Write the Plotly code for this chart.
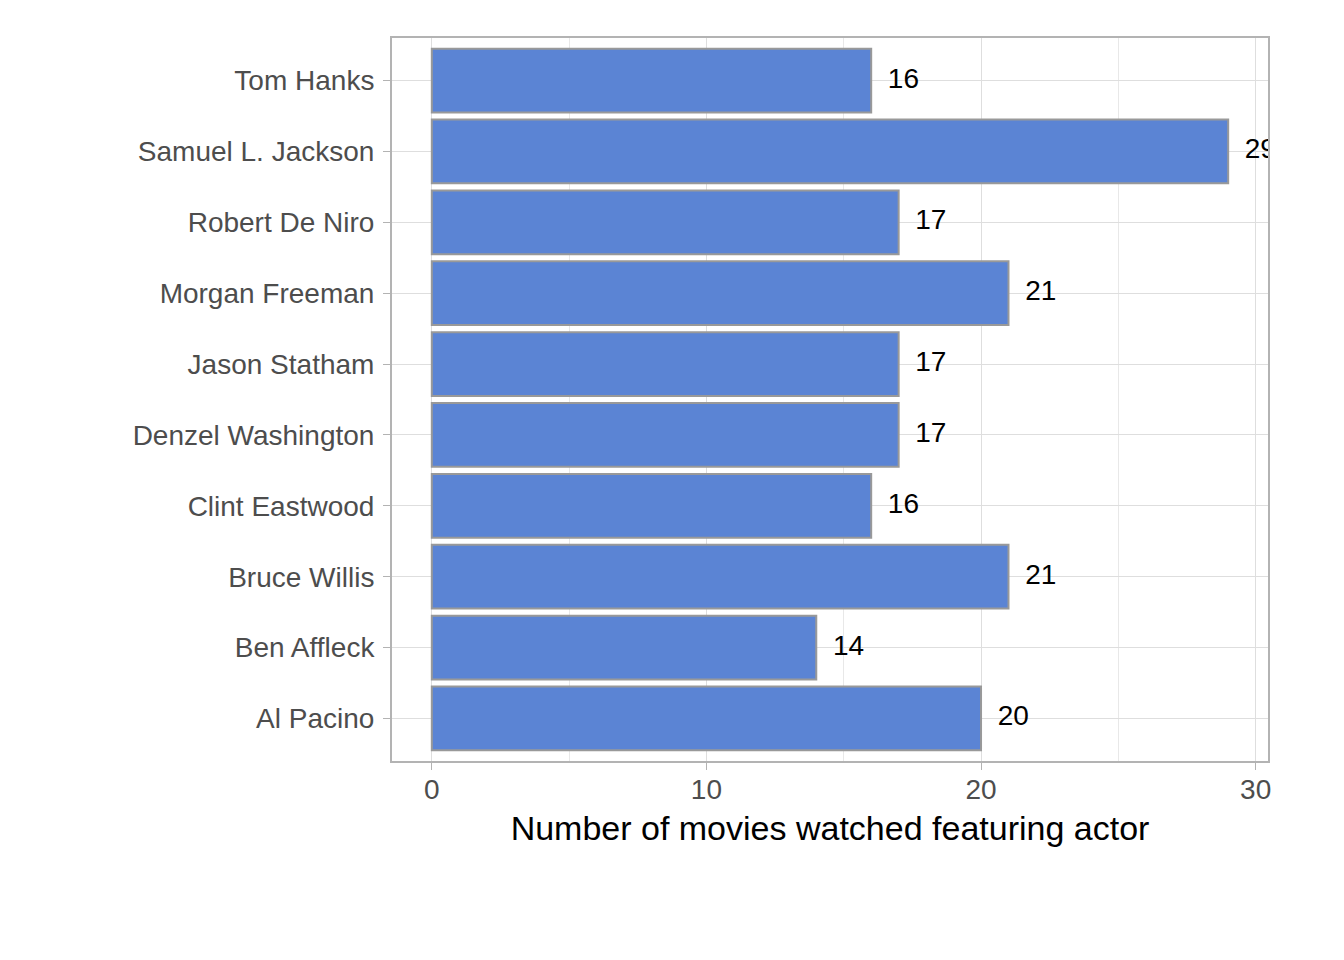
import plotly.graph_objects as go

actors = ["Tom Hanks", "Samuel L. Jackson", "Robert De Niro", "Morgan Freeman",
          "Jason Statham", "Denzel Washington", "Clint Eastwood", "Bruce Willis",
          "Ben Affleck", "Al Pacino"]
movies = [16, 29, 17, 21, 17, 17, 16, 21, 14, 20]

FONT = "Liberation Sans, Arial, sans-serif"
fig = go.Figure()
fig.add_trace(go.Bar(
    x=movies, y=actors, orientation="h", width=0.9,
    marker=dict(color="#5B84D4", line=dict(color="#999999", width=2)),
    hoverinfo="skip", showlegend=False,
))
fig.add_trace(go.Scatter(
    x=movies, y=actors, mode="markers+text",
    text=[str(v) for v in movies], textposition="middle right",
    textfont=dict(family=FONT, size=28, color="black"),
    marker=dict(size=25, color="rgba(0,0,0,0)"),
    cliponaxis=True, hoverinfo="skip", showlegend=False,
))

fig.update_layout(
    width=1344, height=960,
    margin=dict(l=384, r=84, t=30, b=207),
    paper_bgcolor="white", plot_bgcolor="white",
    font=dict(family=FONT),
    xaxis=dict(
        range=[-1.45, 30.45], tickvals=[0, 10, 20, 30],
        showgrid=True, gridcolor="#DEDEDE", gridwidth=1,
        minor=dict(tickvals=[5, 15, 25], showgrid=True, gridcolor="#E8E8E8", gridwidth=1),
        zeroline=False,
        ticks="outside", ticklen=7, tickwidth=1, tickcolor="#B3B3B3",
        tickfont=dict(family=FONT, size=28, color="#4D4D4D"),
        ticklabelstandoff=-5,
        showline=True, mirror=True, linecolor="#B3B3B3", linewidth=2,
        title=dict(text="Number of movies watched featuring actor",
                   font=dict(family=FONT, size=34, color="black"), standoff=13),
    ),
    yaxis=dict(
        categoryorder="array", categoryarray=actors,
        range=[9.6, -0.6],
        showgrid=True, gridcolor="#DEDEDE", gridwidth=1,
        ticks="outside", ticklen=7, tickwidth=1, tickcolor="#B3B3B3",
        tickfont=dict(family=FONT, size=28, color="#4D4D4D"),
        ticklabelstandoff=3,
        showline=True, mirror=True, linecolor="#B3B3B3", linewidth=2,
    ),
)
fig.write_html("out.html")
